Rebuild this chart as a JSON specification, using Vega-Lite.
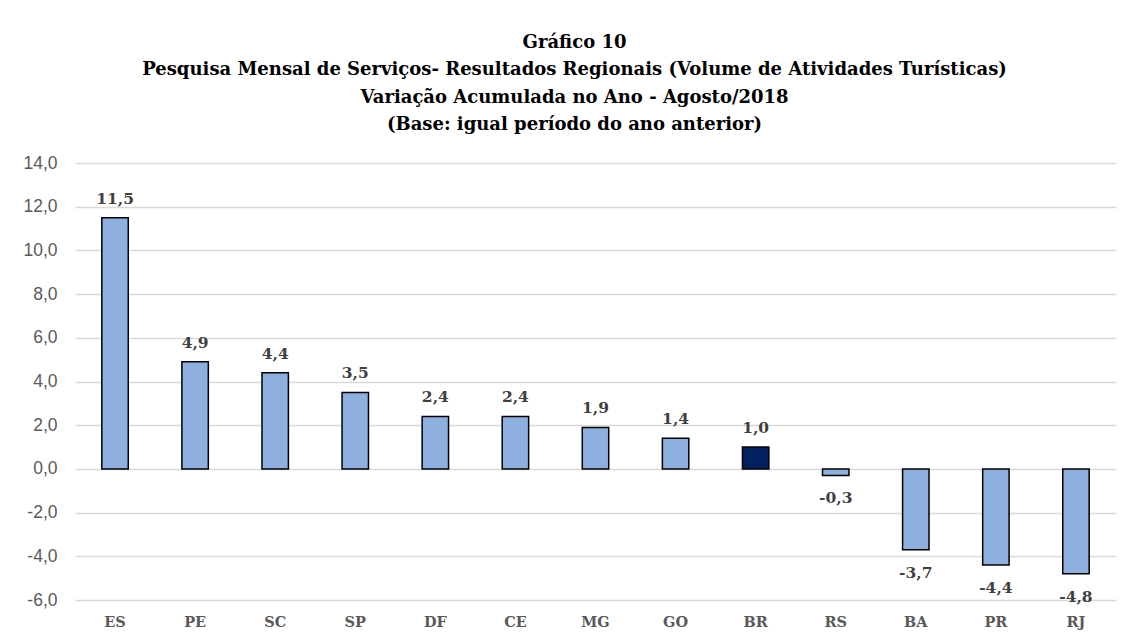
{
  "$schema": "https://vega.github.io/schema/vega-lite/v6.json",
  "autosize": {"type": "none"},
  "width": 1041,
  "height": 437,
  "padding": {"left": 75, "top": 163, "right": 14, "bottom": 41},
  "background": "white",
  "config": {
    "locale": {"number": {"decimal": ",", "thousands": ".", "grouping": [3], "currency": ["R$", ""], "minus": "-"}},
    "view": {"stroke": null}
  },
  "title": {
    "text": ["Gráfico 10", "Pesquisa Mensal de Serviços- Resultados Regionais (Volume de Atividades Turísticas)", "Variação Acumulada no Ano - Agosto/2018", "(Base: igual período  do ano anterior)"],
    "font": "DejaVu Serif",
    "fontSize": 18,
    "fontWeight": "bold",
    "color": "#000000",
    "lineHeight": 27.5,
    "anchor": "middle",
    "dx": -21,
    "offset": 20
  },
  "data": {
    "values": [
      {"uf": "ES", "v": 11.5, "tipo": "UF"},
      {"uf": "PE", "v": 4.9, "tipo": "UF"},
      {"uf": "SC", "v": 4.4, "tipo": "UF"},
      {"uf": "SP", "v": 3.5, "tipo": "UF"},
      {"uf": "DF", "v": 2.4, "tipo": "UF"},
      {"uf": "CE", "v": 2.4, "tipo": "UF"},
      {"uf": "MG", "v": 1.9, "tipo": "UF"},
      {"uf": "GO", "v": 1.4, "tipo": "UF"},
      {"uf": "BR", "v": 1.0, "tipo": "BR"},
      {"uf": "RS", "v": -0.3, "tipo": "UF"},
      {"uf": "BA", "v": -3.7, "tipo": "UF"},
      {"uf": "PR", "v": -4.4, "tipo": "UF"},
      {"uf": "RJ", "v": -4.8, "tipo": "UF"}
    ]
  },
  "encoding": {
    "x": {
      "field": "uf", "type": "nominal", "sort": null, "title": null,
      "scale": {"paddingInner": 0.67, "paddingOuter": 0.335},
      "axis": {
        "orient": "bottom", "domain": false, "ticks": false, "labelAngle": 0,
        "labelFont": "DejaVu Serif", "labelFontSize": 14.5, "labelFontWeight": "bold",
        "labelColor": "#595959", "labelBaseline": "middle", "labelPadding": 22
      }
    },
    "y": {
      "field": "v", "type": "quantitative", "title": null,
      "scale": {"domain": [-6, 14], "nice": false},
      "axis": {
        "values": [-6, -4, -2, 0, 2, 4, 6, 8, 10, 12, 14],
        "format": ".1f", "domain": false, "ticks": false,
        "labelFont": "Liberation Sans", "labelFontSize": 17.5, "labelColor": "#595959",
        "labelPadding": 18, "gridColor": "#d9d9d9", "gridWidth": 1.5
      }
    }
  },
  "layer": [
    {
      "mark": {"type": "bar", "stroke": "#000000", "strokeWidth": 1.5},
      "encoding": {
        "fill": {
          "field": "tipo", "type": "nominal", "legend": null,
          "scale": {"domain": ["UF", "BR"], "range": ["#8eb0de", "#002060"]}
        }
      }
    },
    {
      "transform": [{"filter": "datum.v >= 0"}],
      "mark": {"type": "text", "baseline": "middle", "dy": -19, "font": "DejaVu Serif", "fontSize": 15.5, "fontWeight": "bold", "color": "#404040"},
      "encoding": {"text": {"field": "v", "type": "quantitative", "format": ".1f"}}
    },
    {
      "transform": [{"filter": "datum.v < 0"}],
      "mark": {"type": "text", "baseline": "middle", "dy": 23, "font": "DejaVu Serif", "fontSize": 15.5, "fontWeight": "bold", "color": "#404040"},
      "encoding": {"text": {"field": "v", "type": "quantitative", "format": ".1f"}}
    }
  ]
}
